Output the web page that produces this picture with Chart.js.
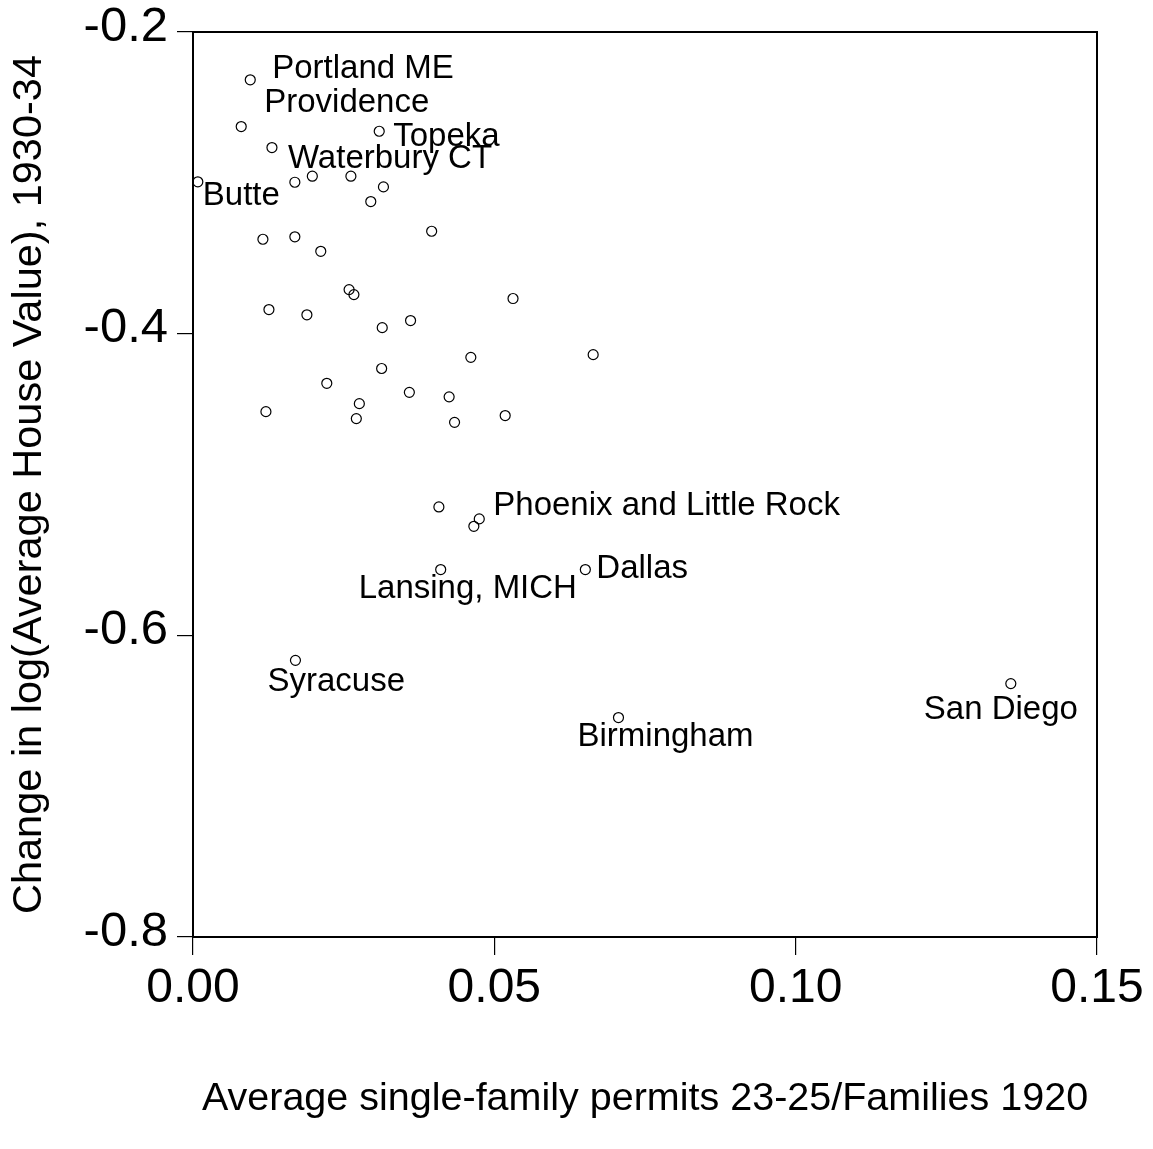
<!DOCTYPE html>
<html>
<head>
<meta charset="utf-8">
<script src="https://cdn.jsdelivr.net/npm/chart.js@4.4.0/dist/chart.umd.min.js"></script>
<style>
  html, body { margin: 0; padding: 0; background: #fff; }
</style>
</head>
<body>
<canvas id="chart" width="1153" height="1149"></canvas>
<script>
// permits 23-25 / families 1920 (x) and change in log house value 1930-34 (y)
const permits = [
  0.0095, 0.0080, 0.0309, 0.0131, 0.0008, 0.0169, 0.0198, 0.0262, 0.0316, 0.0295,
  0.0396, 0.0116, 0.0169, 0.0212, 0.0259, 0.0267, 0.0531, 0.0126, 0.0189, 0.0314,
  0.0361, 0.0461, 0.0664, 0.0313, 0.0222, 0.0359, 0.0425, 0.0276, 0.0121, 0.0518,
  0.0271, 0.0434, 0.0408, 0.0475, 0.0466, 0.0411, 0.0651, 0.0170, 0.0706, 0.1357
];
const houseValue = [
  -0.2317, -0.2627, -0.2658, -0.2766, -0.2993, -0.2996, -0.2956, -0.2956, -0.3027, -0.3124,
  -0.3321, -0.3374, -0.3358, -0.3454, -0.3708, -0.3741, -0.3767, -0.3840, -0.3875, -0.3960,
  -0.3913, -0.4157, -0.4139, -0.4231, -0.4329, -0.4389, -0.4419, -0.4464, -0.4517, -0.4543,
  -0.4563, -0.4588, -0.5149, -0.5228, -0.5277, -0.5564, -0.5564, -0.6166, -0.6545, -0.6320
];

// labelled cities and the point each one belongs to
const cityNames = ["Portland ME", "Providence", "Topeka", "Waterbury CT", "Butte",
  "Phoenix and Little Rock", "Lansing, MICH", "Dallas", "Syracuse", "Birmingham", "San Diego"];
const cityIndex = [0, 1, 2, 3, 4, 33, 35, 36, 37, 38, 39];

const xTickValues = [0, 0.05, 0.10, 0.15];
const xTickLabels = ["0.00", "0.05", "0.10", "0.15"];
const yTickValues = [-0.8, -0.6, -0.4, -0.2];
const yTickLabels = ["-0.8", "-0.6", "-0.4", "-0.2"];

// where each label's text starts, relative to its point (px)
const labelOffsets = {
  "Portland ME": [22, -2],
  "Providence": [23, -15],
  "Topeka": [14, 15],
  "Waterbury CT": [16, 20],
  "Butte": [5, 23],
  "Phoenix and Little Rock": [14, -4],
  "Lansing, MICH": [-82, 28],
  "Dallas": [11, 8],
  "Syracuse": [-28, 31],
  "Birmingham": [-41, 28],
  "San Diego": [-87, 35]
};

const FONT = "'Liberation Sans', Arial, Helvetica, sans-serif";
Chart.defaults.color = "#000";
Chart.defaults.font.family = FONT;

const frameAndLabels = {
  id: "frameAndLabels",
  afterDatasetsDraw(chart) {
    const { ctx, chartArea: a, scales: { x, y } } = chart;
    ctx.save();
    ctx.strokeStyle = "#000";
    ctx.lineWidth = 2;
    ctx.strokeRect(a.left, a.top, a.right - a.left, a.bottom - a.top);
    ctx.font = "33px " + FONT;
    ctx.fillStyle = "#000";
    ctx.textBaseline = "alphabetic";
    cityNames.forEach((name, i) => {
      const k = cityIndex[i];
      const off = labelOffsets[name];
      ctx.fillText(name,
        x.getPixelForValue(permits[k]) + off[0],
        y.getPixelForValue(houseValue[k]) + off[1]);
    });
    ctx.restore();
  }
};

const config = {
  type: "scatter",
  data: {
    datasets: [{
      data: permits.map((v, i) => ({ x: v, y: houseValue[i] })),
      pointStyle: "circle",
      pointRadius: 5,
      pointBorderWidth: 1.2,
      pointBorderColor: "#000",
      pointBackgroundColor: "rgba(0,0,0,0)"
    }]
  },
  options: {
    responsive: false,
    animation: false,
    devicePixelRatio: 1,
    layout: { padding: { top: 32, right: 56, left: 0, bottom: 0 } },
    plugins: { legend: { display: false }, tooltip: { enabled: false } },
    scales: {
      x: {
        type: "linear",
        min: 0,
        max: 0.15,
        afterBuildTicks: (s) => { s.ticks = xTickValues.map(v => ({ value: v })); },
        afterFit: (s) => { s.height = 212; s.paddingLeft = 0; s.paddingRight = 0; },
        border: { display: false },
        grid: { drawOnChartArea: false, drawTicks: true, tickLength: 18, color: "#000", lineWidth: 1.2 },
        ticks: {
          padding: 5,
          font: { size: 48 },
          maxRotation: 0,
          callback: (v, i) => xTickLabels[i]
        },
        title: {
          display: true,
          text: "Average single-family permits 23-25/Families 1920",
          font: { size: 39.5 },
          padding: { top: 0, bottom: 26 }
        }
      },
      y: {
        type: "linear",
        min: -0.8,
        max: -0.2,
        afterBuildTicks: (s) => { s.ticks = yTickValues.map(v => ({ value: v })); },
        afterFit: (s) => { s.width = 193; s.paddingTop = 0; s.paddingBottom = 0; },
        border: { display: false },
        grid: { drawOnChartArea: false, drawTicks: true, tickLength: 16, color: "#000", lineWidth: 1.2 },
        ticks: {
          padding: 9,
          labelOffset: -5,
          font: { size: 49 },
          callback: (v, i) => yTickLabels[i]
        },
        title: {
          display: true,
          text: "Change in log(Average House Value), 1930-34",
          font: { size: 41.5 },
          padding: { top: 5, bottom: 0 }
        }
      }
    }
  },
  plugins: [frameAndLabels]
};

const myChart = new Chart(document.getElementById("chart").getContext("2d"), config);
</script>
</body>
</html>
